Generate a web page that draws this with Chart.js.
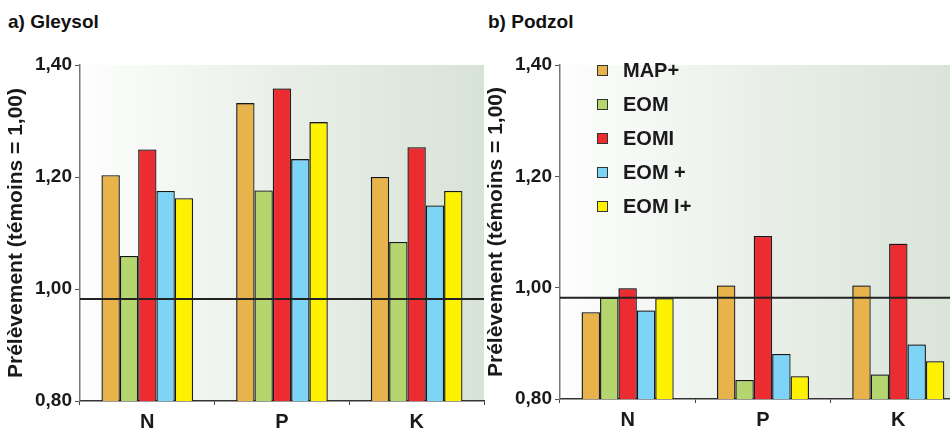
<!DOCTYPE html>
<html lang="fr">
<head>
    <meta charset="UTF-8">
    <title>Prélèvement N, P, K</title>
    <script src="https://cdn.jsdelivr.net/npm/chart.js"></script>
    <style>
        body { margin: 0; width: 950px; height: 431px; overflow: hidden; background: #fff; position: relative; font-family: 'Liberation Sans', Arial, sans-serif; }
        .titre { position: absolute; top: 12px; font-size: 19px; font-weight: bold; line-height: 1; color: #111; }
        .panneau { position: absolute; top: 0; }
    </style>
</head>
<body>
    <div class="titre" style="left: 8px;">a) Gleysol</div>
    <div class="titre" style="left: 488px;">b) Podzol</div>
    <div class="panneau" style="left: 0;"><canvas id="gleysol" width="485" height="431"></canvas></div>
    <div class="panneau" style="left: 480px;"><canvas id="podzol" width="487" height="431"></canvas></div>

    <script>
        // données
        const elements = ['N', 'P', 'K'];
        const traitements = ['MAP+', 'EOM', 'EOMI', 'EOM +', 'EOM I+'];
        const couleurs = ['#e8b34a', '#b5d66f', '#ec2c30', '#7ed4f6', '#fff200'];

        const gleysolMap = [1.203, 1.332, 1.200];
        const gleysolEom = [1.059, 1.176, 1.084];
        const gleysolEomi = [1.249, 1.358, 1.253];
        const gleysolEomPlus = [1.175, 1.232, 1.149];
        const gleysolEomiPlus = [1.162, 1.298, 1.175];

        const podzolMap = [0.956, 1.004, 1.004];
        const podzolEom = [0.982, 0.834, 0.844];
        const podzolEomi = [0.999, 1.093, 1.079];
        const podzolEomPlus = [0.959, 0.881, 0.898];
        const podzolEomiPlus = [0.981, 0.841, 0.868];

        const ligneTemoin = 0.982;
        const yTicks = [0.8, 1.0, 1.2, 1.4];

        Chart.defaults.font.family = "'Liberation Sans', Arial, sans-serif";

        function jeux(series) {
            return series.map((data, i) => ({
                label: traitements[i],
                data: data,
                backgroundColor: couleurs[i],
                borderColor: '#1e1e1e',
                borderWidth: 1.3,
                barPercentage: 1,
                categoryPercentage: 0.68
            }));
        }

        // fond dégradé de la zone de tracé
        const fondPlugin = {
            id: 'fond',
            beforeDraw(chart) {
                const a = chart.chartArea;
                const ctx = chart.ctx;
                const g = ctx.createLinearGradient(a.left, 0, a.right, 0);
                g.addColorStop(0, '#fdfefd');
                g.addColorStop(0.5, '#e9efe8');
                g.addColorStop(1, '#d8e3d7');
                ctx.save();
                ctx.fillStyle = g;
                ctx.fillRect(a.left, a.top, a.right - a.left, a.bottom - a.top);
                ctx.restore();
            }
        };

        // petite ombre grise sur les barres
        const ombrePlugin = {
            id: 'ombre',
            beforeDatasetsDraw(chart) {
                const ctx = chart.ctx;
                ctx.save();
                ctx.shadowColor = 'rgba(0, 0, 0, 0.35)';
                ctx.shadowOffsetX = -1;
                ctx.shadowOffsetY = -1;
                ctx.shadowBlur = 1;
            },
            afterDatasetsDraw(chart) {
                chart.ctx.restore();
            }
        };

        // ligne des témoins
        const lignePlugin = {
            id: 'ligne',
            afterDatasetsDraw(chart) {
                const a = chart.chartArea;
                const y = chart.scales.y.getPixelForValue(ligneTemoin);
                const ctx = chart.ctx;
                ctx.save();
                ctx.strokeStyle = '#222';
                ctx.lineWidth = 2;
                ctx.beginPath();
                ctx.moveTo(a.left, y);
                ctx.lineTo(a.right, y);
                ctx.stroke();
                ctx.restore();
            }
        };

        // légende verticale dans le graphique b)
        const legendePlugin = {
            id: 'legende',
            afterDraw(chart) {
                const a = chart.chartArea;
                const ctx = chart.ctx;
                ctx.save();
                ctx.font = "bold 20px 'Liberation Sans', Arial, sans-serif";
                ctx.textBaseline = 'middle';
                chart.data.datasets.forEach((ds, i) => {
                    const y = a.top + 5 + i * 34;
                    ctx.fillStyle = ds.backgroundColor;
                    ctx.fillRect(a.left + 37, y - 5, 10, 10);
                    ctx.strokeStyle = '#333';
                    ctx.lineWidth = 1;
                    ctx.strokeRect(a.left + 37.5, y - 4.5, 10, 10);
                    ctx.fillStyle = '#1a1a1a';
                    ctx.fillText(ds.label, a.left + 63, y + 1);
                });
                ctx.restore();
            }
        };

        function options(basX) {
            return {
                responsive: false,
                animation: false,
                layout: { padding: { top: 65, right: 1, left: 0, bottom: 0 } },
                plugins: { legend: { display: false }, tooltip: { enabled: false } },
                scales: {
                    x: {
                        grid: { drawOnChartArea: false, tickLength: 4, tickColor: '#444', offset: true },
                        border: { color: '#333', width: 1.5 },
                        ticks: { color: '#1a1a1a', font: { size: 20, weight: 'bold' }, padding: 5 },
                        afterFit: s => { s.height = basX; }
                    },
                    y: {
                        min: 0.8,
                        max: 1.4,
                        afterBuildTicks: s => { s.ticks = yTicks.map(v => ({ value: v })); },
                        ticks: {
                            color: '#1a1a1a',
                            font: { size: 19, weight: 'bold' },
                            padding: 3,
                            callback: v => v.toFixed(2).replace('.', ',')
                        },
                        grid: { drawOnChartArea: false, tickLength: 5, tickColor: '#555' },
                        border: { color: '#777', width: 1.5 },
                        title: {
                            display: true,
                            text: 'Prélèvement (témoins = 1,00)',
                            color: '#1a1a1a',
                            font: { size: 21, weight: 'bold' },
                            padding: { top: 4, bottom: 0 }
                        },
                        afterFit: s => { s.width = 80; }
                    }
                }
            };
        }

        new Chart(document.getElementById('gleysol'), {
            type: 'bar',
            data: {
                labels: elements,
                datasets: jeux([gleysolMap, gleysolEom, gleysolEomi, gleysolEomPlus, gleysolEomiPlus])
            },
            options: options(30),
            plugins: [fondPlugin, ombrePlugin, lignePlugin]
        });

        new Chart(document.getElementById('podzol'), {
            type: 'bar',
            data: {
                labels: elements,
                datasets: jeux([podzolMap, podzolEom, podzolEomi, podzolEomPlus, podzolEomiPlus])
            },
            options: options(32),
            plugins: [fondPlugin, ombrePlugin, lignePlugin, legendePlugin]
        });
    </script>
</body>
</html>
